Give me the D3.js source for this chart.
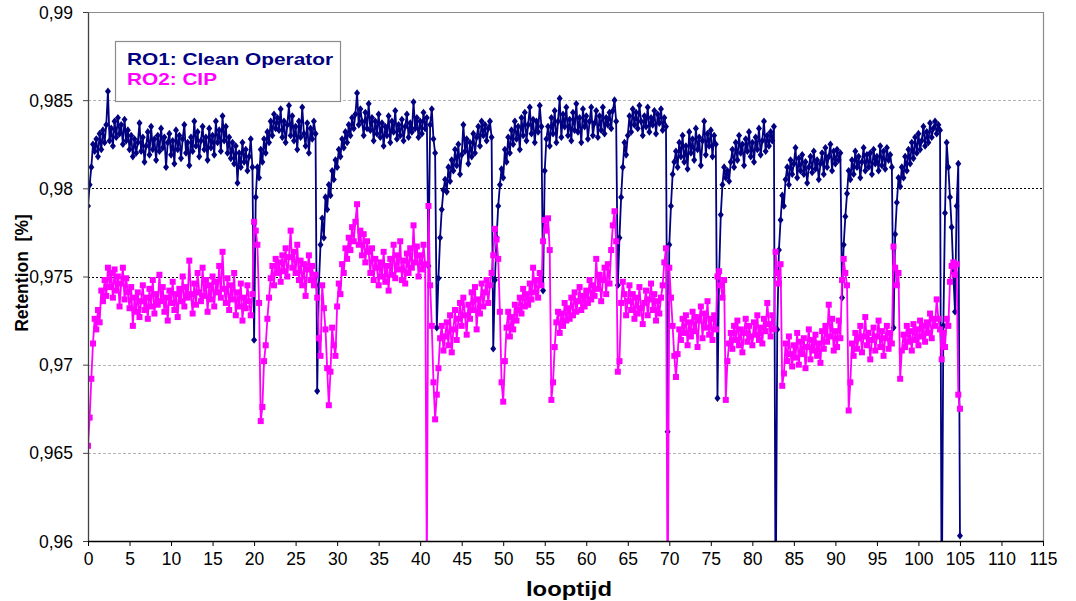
<!DOCTYPE html>
<html><head><meta charset="utf-8">
<script src="https://cdn.jsdelivr.net/npm/d3@7"></script>
<style>
body{margin:0;background:#fff}
svg{display:block}
text{font-family:"Liberation Sans",Arial,sans-serif}
</style></head>
<body><svg id="chart" width="1076" height="601"></svg>
<script>
const looptijd=[
0,0.2,0.4,0.6,0.8,1,1.2,1.4,1.6,1.8,2,2.2,2.4,2.6,2.8,3,3.2,3.4,3.6,3.8,4,4.2,4.4,4.6,4.8,
5,5.2,5.4,5.6,5.8,6,6.2,6.4,6.6,6.8,7,7.2,7.4,7.6,7.8,8,8.2,8.4,8.6,8.8,9,9.2,9.4,9.6,9.8,
10,10.2,10.4,10.6,10.8,11,11.2,11.4,11.6,11.8,12,12.2,12.4,12.6,12.8,13,13.2,13.4,13.6,13.8,14,14.2,14.4,14.6,14.8,
15,15.2,15.4,15.6,15.8,16,16.2,16.4,16.6,16.8,17,17.2,17.4,17.6,17.8,18,18.2,18.4,18.6,18.8,19,19.2,19.4,19.6,19.8,
20,20.2,20.4,20.6,20.8,21,21.2,21.4,21.6,21.8,22,22.2,22.4,22.6,22.8,23,23.2,23.4,23.6,23.8,24,24.2,24.4,24.6,24.8,
25,25.2,25.4,25.6,25.8,26,26.2,26.4,26.6,26.8,27,27.2,27.4,27.6,27.8,28,28.2,28.4,28.6,28.8,29,29.2,29.4,29.6,29.8,
30,30.2,30.4,30.6,30.8,31,31.2,31.4,31.6,31.8,32,32.2,32.4,32.6,32.8,33,33.2,33.4,33.6,33.8,34,34.2,34.4,34.6,34.8,
35,35.2,35.4,35.6,35.8,36,36.2,36.4,36.6,36.8,37,37.2,37.4,37.6,37.8,38,38.2,38.4,38.6,38.8,39,39.2,39.4,39.6,39.8,
40,40.2,40.4,40.6,40.8,41,41.2,41.4,41.6,41.8,42,42.2,42.4,42.6,42.8,43,43.2,43.4,43.6,43.8,44,44.2,44.4,44.6,44.8,
45,45.2,45.4,45.6,45.8,46,46.2,46.4,46.6,46.8,47,47.2,47.4,47.6,47.8,48,48.2,48.4,48.6,48.8,49,49.2,49.4,49.6,49.8,
50,50.2,50.4,50.6,50.8,51,51.2,51.4,51.6,51.8,52,52.2,52.4,52.6,52.8,53,53.2,53.4,53.6,53.8,54,54.2,54.4,54.6,54.8,
55,55.2,55.4,55.6,55.8,56,56.2,56.4,56.6,56.8,57,57.2,57.4,57.6,57.8,58,58.2,58.4,58.6,58.8,59,59.2,59.4,59.6,59.8,
60,60.2,60.4,60.6,60.8,61,61.2,61.4,61.6,61.8,62,62.2,62.4,62.6,62.8,63,63.2,63.4,63.6,63.8,64,64.2,64.4,64.6,64.8,
65,65.2,65.4,65.6,65.8,66,66.2,66.4,66.6,66.8,67,67.2,67.4,67.6,67.8,68,68.2,68.4,68.6,68.8,69,69.2,69.4,69.6,69.8,
70,70.2,70.4,70.6,70.8,71,71.2,71.4,71.6,71.8,72,72.2,72.4,72.6,72.8,73,73.2,73.4,73.6,73.8,74,74.2,74.4,74.6,74.8,
75,75.2,75.4,75.6,75.8,76,76.2,76.4,76.6,76.8,77,77.2,77.4,77.6,77.8,78,78.2,78.4,78.6,78.8,79,79.2,79.4,79.6,79.8,
80,80.2,80.4,80.6,80.8,81,81.2,81.4,81.6,81.8,82,82.2,82.4,82.6,82.8,83,83.2,83.4,83.6,83.8,84,84.2,84.4,84.6,84.8,
85,85.2,85.4,85.6,85.8,86,86.2,86.4,86.6,86.8,87,87.2,87.4,87.6,87.8,88,88.2,88.4,88.6,88.8,89,89.2,89.4,89.6,89.8,
90,90.2,90.4,90.6,90.8,91,91.2,91.4,91.6,91.8,92,92.2,92.4,92.6,92.8,93,93.2,93.4,93.6,93.8,94,94.2,94.4,94.6,94.8,
95,95.2,95.4,95.6,95.8,96,96.2,96.4,96.6,96.8,97,97.2,97.4,97.6,97.8,98,98.2,98.4,98.6,98.8,99,99.2,99.4,99.6,99.8,
100,100.2,100.4,100.6,100.8,101,101.2,101.4,101.6,101.8,102,102.2,102.4,102.6,102.8,103,103.2,103.4,103.6,103.8,104,104.2,104.4,104.6,104.8,
105];

const ro1=[
.9790,.9802,.9812,.9825,.9821, .9828,.9818,.9831,.9822,.9833, .9826,.9836,.9855,.9827,.9834, .9824,.9838,.9829,.9840,.9831, .9836,.9825,.9839,.9827,.9833,
.9822,.9830,.9818,.9828,.9820, .9826,.9837,.9821,.9829,.9815, .9824,.9832,.9819,.9835,.9822, .9828,.9816,.9830,.9821,.9834, .9823,.9829,.9812,.9826,.9831,
.9819,.9827,.9814,.9833,.9822, .9830,.9817,.9828,.9836,.9820, .9826,.9813,.9829,.9821,.9838, .9824,.9832,.9818,.9827,.9835, .9822,.9829,.9816,.9834,.9823,
.9830,.9819,.9838,.9826,.9833, .9821,.9841,.9827,.9835,.9820, .9829,.9817,.9826,.9814,.9824, .9803,.9820,.9812,.9826,.9815, .9822,.9810,.9818,.9828,.9812,
.9714,.9795,.9812,.9806,.9822, .9815,.9828,.9820,.9832,.9826, .9838,.9830,.9842,.9834,.9840, .9833,.9845,.9829,.9838,.9826, .9836,.9847,.9830,.9841,.9827,
.9835,.9822,.9838,.9829,.9846, .9831,.9824,.9837,.9820,.9834, .9828,.9838,.9831,.9685,.9745, .9768,.9783,.9772,.9795,.9788, .9802,.9796,.9810,.9805,.9816,
.9812,.9822,.9818,.9828,.9823, .9832,.9826,.9836,.9830,.9840, .9834,.9842,.9854,.9836,.9845, .9838,.9830,.9843,.9834,.9848, .9833,.9840,.9827,.9838,.9831,
.9842,.9829,.9837,.9824,.9835, .9830,.9841,.9826,.9838,.9832, .9844,.9828,.9836,.9830,.9839, .9827,.9835,.9842,.9829,.9837, .9832,.9849,.9834,.9840,.9829,
.9838,.9831,.9843,.9834,.9840, .9756,.9836,.9845,.9828,.9820, .9721,.9749,.9772,.9788,.9799, .9805,.9798,.9812,.9804,.9816, .9810,.9822,.9813,.9825,.9808,
.9819,.9836,.9821,.9828,.9814, .9826,.9818,.9831,.9820,.9829, .9835,.9824,.9838,.9830,.9836, .9827,.9834,.9838,.9829,.9709, .9748,.9772,.9790,.9802,.9811,
.9806,.9822,.9815,.9829,.9820, .9833,.9825,.9838,.9828,.9835, .9822,.9840,.9830,.9843,.9827, .9836,.9846,.9831,.9839,.9826, .9838,.9832,.9847,.9835,.9742,
.9810,.9828,.9835,.9824,.9840, .9831,.9844,.9826,.9838,.9851, .9829,.9842,.9835,.9846,.9830, .9839,.9827,.9843,.9833,.9848, .9832,.9840,.9826,.9845,.9835,
.9841,.9828,.9838,.9846,.9830, .9837,.9844,.9829,.9841,.9833, .9846,.9831,.9840,.9836,.9843, .9834,.9844,.9850,.9838,.9745, .9772,.9795,.9812,.9826,.9819,
.9830,.9841,.9832,.9845,.9836, .9843,.9834,.9847,.9838,.9830, .9841,.9835,.9846,.9832,.9840, .9836,.9844,.9831,.9842,.9837, .9845,.9833,.9840,.9835,.9662,
.9768,.9790,.9808,.9815,.9821, .9812,.9826,.9818,.9830,.9815, .9824,.9811,.9832,.9820,.9828, .9816,.9834,.9822,.9829,.9813, .9827,.9838,.9819,.9831,.9824,
.9833,.9818,.9830,.9825,.9681, .9752,.9785,.9802,.9812,.9806, .9810,.9804,.9815,.9822,.9812, .9826,.9816,.9830,.9820,.9825, .9813,.9828,.9821,.9832,.9818,
.9826,.9815,.9829,.9822,.9834, .9819,.9827,.9838,.9821,.9830, .9824,.9832,.9827,.9835,.9550, .9720,.9765,.9782,.9796,.9790, .9805,.9812,.9802,.9816,.9808,
.9814,.9823,.9806,.9817,.9810, .9819,.9808,.9815,.9803,.9812, .9818,.9809,.9821,.9811,.9816, .9805,.9814,.9820,.9808,.9823, .9812,.9818,.9825,.9810,.9821,
.9814,.9822,.9816,.9820,.9738, .9768,.9784,.9797,.9810,.9805, .9816,.9808,.9821,.9812,.9818, .9806,.9815,.9823,.9810,.9819, .9812,.9820,.9808,.9822,.9814,
.9818,.9810,.9824,.9813,.9821, .9811,.9823,.9816,.9819,.9812, .9721,.9774,.9792,.9806,.9801, .9812,.9806,.9818,.9810,.9822, .9814,.9826,.9817,.9829,.9820,
.9831,.9822,.9827,.9835,.9824, .9832,.9826,.9837,.9829,.9834, .9838,.9831,.9836,.9833,.9550, .9722,.9786,.9826,.9812,.9795, .9778,.9752,.9730,.9790,.9814,
.9603];

const ro2=[
.9654,.9670,.9692,.9712,.9726, .9720,.9731,.9724,.9742,.9736, .9748,.9739,.9755,.9744,.9752, .9738,.9754,.9742,.9750,.9733, .9746,.9755,.9737,.9749,.9741,
.9732,.9744,.9722,.9738,.9730, .9741,.9727,.9736,.9745,.9731, .9738,.9726,.9743,.9733,.9748, .9729,.9740,.9734,.9751,.9736, .9744,.9730,.9738,.9725,.9742,
.9735,.9747,.9731,.9740,.9727, .9743,.9736,.9750,.9733,.9744, .9738,.9759,.9740,.9729,.9746, .9734,.9752,.9741,.9736,.9755, .9739,.9748,.9730,.9745,.9737,
.9750,.9733,.9747,.9741,.9756, .9738,.9764,.9743,.9735,.9749, .9731,.9745,.9737,.9752,.9728, .9741,.9733,.9746,.9725,.9738, .9732,.9745,.9736,.9728,.9740,
.9781,.9776,.9768,.9735,.9668, .9676,.9702,.9711,.9726,.9738, .9749,.9756,.9745,.9760,.9752, .9758,.9747,.9762,.9753,.9766, .9750,.9761,.9776,.9755,.9764,
.9752,.9768,.9748,.9759,.9745, .9757,.9739,.9754,.9762,.9748, .9756,.9745,.9751,.9738,.9715, .9705,.9745,.9732,.9720,.9698, .9677,.9696,.9721,.9711,.9705,
.9733,.9746,.9740,.9757,.9752, .9766,.9760,.9772,.9765,.9778, .9770,.9781,.9791,.9768,.9776, .9762,.9774,.9758,.9770,.9764, .9752,.9766,.9748,.9760,.9755,
.9745,.9758,.9750,.9764,.9747, .9756,.9742,.9760,.9751,.9768, .9749,.9762,.9754,.9770,.9748, .9759,.9746,.9763,.9752,.9766, .9755,.9779,.9758,.9767,.9750,
.9762,.9754,.9768,.9757,.9580, .9790,.9745,.9722,.9690,.9669, .9683,.9698,.9715,.9722,.9708, .9716,.9724,.9711,.9728,.9707, .9720,.9731,.9714,.9726,.9735,
.9722,.9738,.9728,.9717,.9734, .9726,.9741,.9731,.9744,.9720, .9737,.9729,.9746,.9733,.9741, .9748,.9735,.9745,.9752,.9762, .9777,.9771,.9760,.9730,.9690,
.9679,.9702,.9721,.9730,.9716, .9727,.9720,.9734,.9725,.9731, .9738,.9729,.9743,.9733,.9740, .9734,.9746,.9737,.9755,.9741, .9748,.9738,.9752,.9745,.9770,
.9782,.9776,.9783,.9765,.9680, .9690,.9710,.9724,.9730,.9718, .9729,.9722,.9735,.9725,.9732, .9726,.9738,.9728,.9741,.9730, .9736,.9744,.9731,.9739,.9733,
.9742,.9735,.9748,.9737,.9745, .9739,.9760,.9743,.9751,.9736, .9748,.9755,.9740,.9757,.9746, .9765,.9779,.9787,.9770,.9696, .9702,.9735,.9747,.9740,.9728,
.9736,.9745,.9731,.9740,.9726, .9738,.9729,.9744,.9732,.9723, .9735,.9742,.9728,.9737,.9746, .9731,.9740,.9725,.9736,.9729, .9738,.9745,.9758,.9766,.9550,
.9755,.9738,.9722,.9705,.9693, .9706,.9720,.9714,.9726,.9718, .9728,.9711,.9724,.9716,.9730, .9719,.9727,.9710,.9725,.9733, .9715,.9729,.9721,.9736,.9717,
.9726,.9714,.9728,.9720,.9750, .9753,.9745,.9738,.9748,.9680, .9702,.9712,.9718,.9709,.9722, .9714,.9725,.9711,.9720,.9707, .9718,.9726,.9713,.9722,.9716,
.9711,.9724,.9717,.9728,.9714, .9721,.9712,.9726,.9719,.9735, .9723,.9716,.9728,.9720,.9764, .9752,.9746,.9757,.9688,.9695, .9712,.9702,.9716,.9706,.9699,
.9711,.9704,.9718,.9700,.9713, .9706,.9715,.9698,.9710,.9720, .9703,.9714,.9708,.9717,.9705, .9712,.9701,.9719,.9709,.9722, .9713,.9734,.9716,.9726,.9708,
.9719,.9710,.9725,.9715,.9748, .9760,.9752,.9745,.9674,.9690, .9712,.9705,.9718,.9709,.9715, .9722,.9707,.9716,.9727,.9711, .9718,.9703,.9714,.9721,.9708,
.9716,.9725,.9710,.9719,.9705, .9715,.9722,.9709,.9718,.9712, .9767,.9755,.9745,.9752,.9692, .9708,.9717,.9710,.9722,.9713, .9719,.9708,.9723,.9714,.9720,
.9711,.9725,.9716,.9722,.9713, .9724,.9718,.9729,.9715,.9726, .9722,.9737,.9726,.9720,.9703, .9718,.9710,.9726,.9722,.9747, .9756,.9758,.9751,.9757,.9683,
.9675];

const seriesNames=["RO1: Clean Operator","RO2: CIP"];
const xTicks=[0,5,10,15,20,25,30,35,40,45,50,55,60,65,70,75,80,85,90,95,100,105,110,115];
const yTicks=[0.96,0.965,0.97,0.975,0.98,0.985,0.99];
const yTickLabels=["0,96","0,965","0,97","0,975","0,98","0,985","0,99"];
const xTitle="looptijd";
const yTitle="Retention  [%]";

const svg=d3.select("#chart");
const L=88,R=1043,T=12,B=541;
const x=d3.scaleLinear().domain([0,115]).range([L,R]);
const y=d3.scaleLinear().domain([0.96,0.99]).range([B,T]);

// gridlines
const darkGrid=new Set([0.975,0.98]);
svg.append("g").selectAll("line").data(yTicks.filter(v=>v>0.96&&v<0.99)).join("line")
  .attr("x1",L).attr("x2",R).attr("y1",d=>Math.round(y(d))+0.5).attr("y2",d=>Math.round(y(d))+0.5)
  .attr("stroke",d=>darkGrid.has(d)?"#000":"#b4b4b4")
  .attr("stroke-width",1)
  .attr("stroke-dasharray",d=>darkGrid.has(d)?"2,2":"3,2");

// plot frame (top/right gray)
svg.append("path").attr("d",`M${L},${T+0.5}H${R+0.5}V${B}`).attr("fill","none").attr("stroke","#8c8c8c").attr("stroke-width",1.2);

// clip
svg.append("clipPath").attr("id","clip").append("rect").attr("x",L).attr("y",T).attr("width",R-L).attr("height",B-T);

const plot=svg.append("g").attr("clip-path","url(#clip)");
const s1=looptijd.map((t,i)=>({t,v:ro1[i]})).filter(d=>d.v!==undefined);
const s2=looptijd.map((t,i)=>({t,v:ro2[i]})).filter(d=>d.v!==undefined);
const line=d3.line().x(d=>x(d.t)).y(d=>y(d.v));

plot.append("path").datum(s1).attr("d",line).attr("fill","none").attr("stroke","#000080").attr("stroke-width",1.8);
plot.append("g").selectAll("path").data(s1).join("path")
  .attr("transform",d=>`translate(${x(d.t)},${y(d.v)})`).attr("d","M0,-3.8L3,0L0,3.8L-3,0Z").attr("fill","#000080");

plot.append("path").datum(s2).attr("d",line).attr("fill","none").attr("stroke","#FF00FF").attr("stroke-width",1.8);
plot.append("g").selectAll("rect").data(s2).join("rect")
  .attr("x",d=>x(d.t)-3).attr("y",d=>y(d.v)-3).attr("width",6).attr("height",6).attr("fill","#FF00FF");

// axes
const yAxis=d3.axisLeft(y).tickValues(yTicks).tickFormat((d,i)=>yTickLabels[i]).tickSize(5).tickSizeOuter(0);
const gy=svg.append("g").attr("transform",`translate(${L},0)`).call(yAxis);
gy.select(".domain").attr("stroke","#404040").attr("stroke-width",1.3);
gy.selectAll(".tick line").attr("stroke","#404040");
gy.selectAll("text").attr("font-size",17.5).attr("fill","#000").attr("x",-15).attr("dy","0.35em")
  .style("font-family","'Liberation Sans',Arial,sans-serif");

const xAxis=d3.axisBottom(x).tickValues(xTicks).tickFormat(d=>String(d)).tickSize(5).tickSizeOuter(0);
const gx=svg.append("g").attr("transform",`translate(0,${B})`).call(xAxis);
gx.select(".domain").attr("stroke","#000").attr("stroke-width",1.5);
gx.selectAll(".tick line").attr("stroke","#000");
gx.selectAll("text").attr("font-size",17.5).attr("fill","#000").attr("y",12).attr("dy","0.71em")
  .style("font-family","'Liberation Sans',Arial,sans-serif");

// titles
svg.append("text").attr("x",569).attr("y",596).attr("text-anchor","middle")
  .attr("font-size",20).attr("font-weight","bold")
  .attr("textLength",86).attr("lengthAdjust","spacingAndGlyphs").text(xTitle);
svg.append("text").attr("transform","translate(28,273) rotate(-90)").attr("text-anchor","middle")
  .attr("font-size",17.5).attr("font-weight","bold").style("white-space","pre").text(yTitle);

// legend
const lg=svg.append("g");
lg.append("rect").attr("x",115.5).attr("y",41.5).attr("width",225).attr("height",60)
  .attr("fill","#fff").attr("stroke","#8c8c8c").attr("stroke-width",1.2);
const legColors=["#000080","#FF00FF"];
const legWidths=[206,90];
lg.selectAll("text").data(seriesNames).join("text")
  .attr("x",127).attr("y",(d,i)=>65+i*20).attr("font-size",17).attr("font-weight","bold")
  .attr("textLength",(d,i)=>legWidths[i]).attr("lengthAdjust","spacingAndGlyphs")
  .attr("fill",(d,i)=>legColors[i]).text(d=>d);
</script></body></html>
